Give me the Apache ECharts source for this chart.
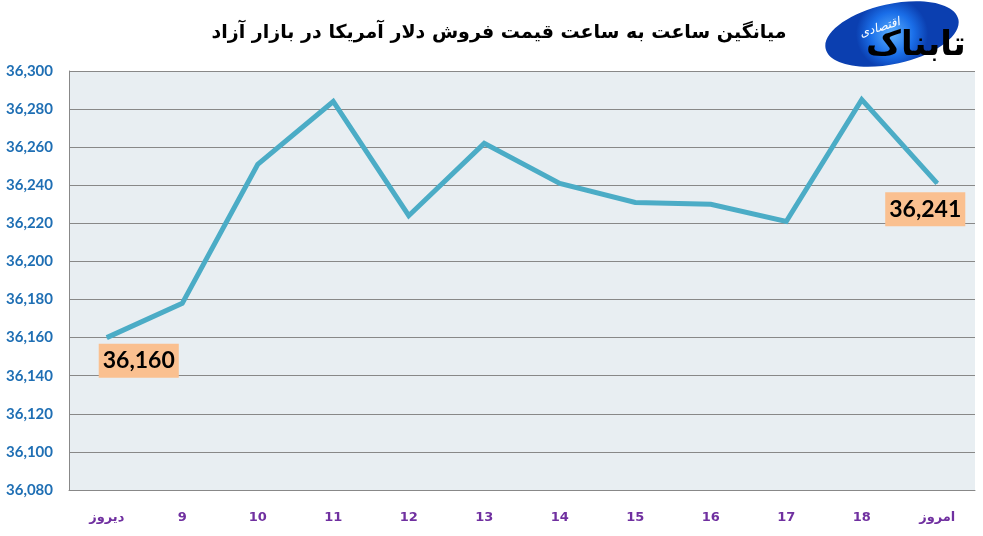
<!DOCTYPE html>
<html>
<head>
<meta charset="utf-8">
<script src="https://cdn.jsdelivr.net/npm/echarts@6/dist/echarts.min.js"></script>
<style>
html,body{margin:0;padding:0;background:#fff;}
#c{width:983px;height:536px;}
</style>
</head>
<body>
<div id="c"></div>
<script>
var titleText = 'میانگین ساعت به ساعت قیمت فروش دلار آمریکا در بازار آزاد';
var categories = ['دیروز','9','10','11','12','13','14','15','16','17','18','امروز'];
var values = [36160, 36178, 36251, 36284, 36224, 36262, 36241, 36231, 36230, 36221, 36285, 36241];
var yMin = 36080, yMax = 36300, yStep = 20;
var labeledIdx = [0, 11];
var labelOffsets = {0: [32, 23], 11: [-12, 26]};

var chart = echarts.init(document.getElementById('c'));
var seriesData = values.map(function (v, i) {
  if (labeledIdx.indexOf(i) >= 0) {
    return {
      value: v,
      label: {
        show: true,
        position: 'inside',
        offset: labelOffsets[i],
        formatter: function (p) { return Number(p.value).toLocaleString('en-US'); },
        backgroundColor: '#FAC090',
        color: '#000',
        fontFamily: 'Lato, "Open Sans", sans-serif',
        fontWeight: 'bold',
        fontSize: 23,
        padding: [6, 4, 5, 4]
      }
    };
  }
  return v;
});

chart.setOption({
  animation: false,
  backgroundColor: '#fff',
  title: {
    text: titleText,
    left: 494,
    top: 19,
    textAlign: 'center',
    textStyle: { fontFamily: '"DejaVu Sans", sans-serif', fontWeight: 'bold', fontSize: 19, color: '#000' }
  },
  graphic: [
    {
      type: 'ellipse', shape: { cx: 0, cy: 0, rx: 68, ry: 30 },
      x: 892, y: 34, rotation: 0.22,
      style: {
        fill: {
          type: 'radial', x: 0.5, y: 0.5, r: 0.6,
          colorStops: [{ offset: 0, color: '#5fb2ff' }, { offset: 0.6, color: '#1a6ee8' }, { offset: 1, color: '#0b3fb0' }]
        }
      },
      z: 10
    },
    {
      type: 'text', x: 916, y: 46,
      style: { text: 'تابناک', fill: '#000', font: 'bold 34px "DejaVu Sans"', textAlign: 'center', textVerticalAlign: 'middle' },
      z: 11
    },
    {
      type: 'text', x: 880, y: 28,
      style: { text: 'اقتصادی', fill: '#fff', font: 'italic 12px "DejaVu Sans"', textAlign: 'center', textVerticalAlign: 'middle' },
      z: 11, rotation: 0.3
    }
  ],
  grid: {
    left: 69, right: 8, top: 71, bottom: 46,
    show: true, backgroundColor: '#E8EEF2', borderWidth: 0
  },
  xAxis: {
    type: 'category',
    data: categories,
    boundaryGap: true,
    axisLine: { show: true, lineStyle: { color: '#888' } },
    axisTick: { show: false },
    axisLabel: {
      color: '#7030A0', fontWeight: 'bold', fontSize: 13, margin: 21,
      fontFamily: '"DejaVu Sans", sans-serif', interval: 0
    },
    splitLine: { show: false }
  },
  yAxis: {
    type: 'value',
    min: yMin, max: yMax, interval: yStep,
    axisLine: { show: true, lineStyle: { color: '#888' } },
    axisTick: { show: false },
    axisLabel: {
      color: '#1F6FB4', fontWeight: 'bold', fontSize: 15, margin: 16,
      fontFamily: 'Lato, "Open Sans", sans-serif',
      formatter: function (v) { return v.toLocaleString('en-US'); }
    },
    splitLine: { show: true, lineStyle: { color: '#888', width: 1 } }
  },
  series: [{
    type: 'line',
    data: seriesData,
    symbol: 'circle',
    symbolSize: 1,
    itemStyle: { color: '#4BACC6' },
    lineStyle: { color: '#4BACC6', width: 5, join: 'miter' },
    label: { show: false },
    z: 5
  }]
});
</script>
</body>
</html>
